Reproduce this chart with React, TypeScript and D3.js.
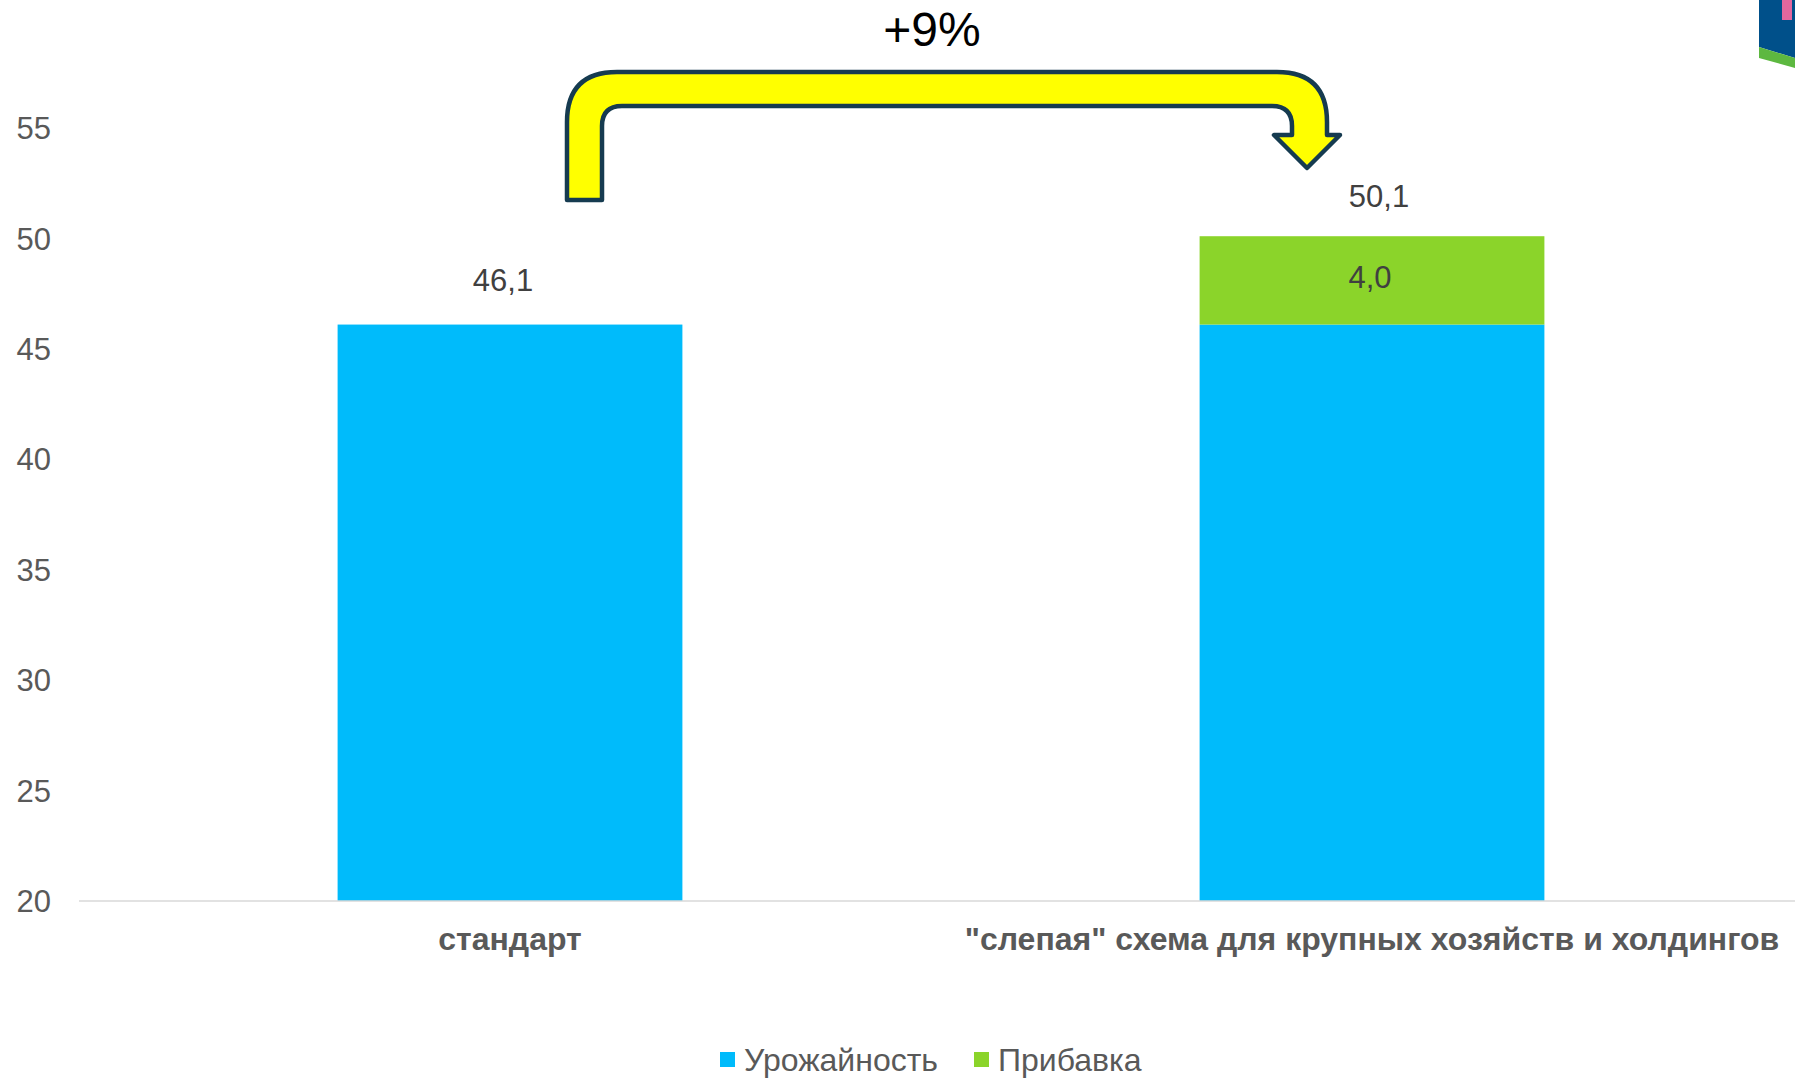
import React from "react";
import * as d3 from "d3";

const categories = ["стандарт", "\"слепая\" схема для крупных хозяйств и холдингов"];
const yieldValues = [46.1, 46.1];
const gainValues = [0, 4.0];
const totalLabels = ["46,1", "50,1"];
const gainLabels = ["", "4,0"];
const yTicks = [20, 25, 30, 35, 40, 45, 50, 55];
const seriesNames = ["Урожайность", "Прибавка"];
const growthLabel = "+9%";

const W = 1795;
const H = 1078;
const BLUE = "#00BBFB";
const GREEN = "#8BD42A";
const FONT = "'Liberation Sans', Arial, sans-serif";

export default function App() {
  const x = d3.scaleBand<string>().domain(categories).range([79, 1803]).paddingInner(0.6).paddingOuter(0.3);
  const y = d3.scaleLinear().domain([20, 55]).range([901, 128]);
  const bw = x.bandwidth();
  const totalDx = [-7, 7];

  // arrow geometry
  const xL0 = 567, xL1 = 602, yBot = 200, yT0 = 72, yT1 = 106;
  const xR1 = 1292, xR0 = 1327, yHead = 135, hL = 1274, hR = 1340, tipX = 1307, tipY = 168;
  const Ro = 50, Ri = 20;
  const arrowPath = [
    `M${xL0},${yBot}`,
    `L${xL0},${yT0 + Ro}`,
    `Q${xL0},${yT0} ${xL0 + Ro},${yT0}`,
    `L${xR0 - Ro},${yT0}`,
    `Q${xR0},${yT0} ${xR0},${yT0 + Ro}`,
    `L${xR0},${yHead}`,
    `L${hR},${yHead}`,
    `L${tipX},${tipY}`,
    `L${hL},${yHead}`,
    `L${xR1},${yHead}`,
    `L${xR1},${yT1 + Ri}`,
    `Q${xR1},${yT1} ${xR1 - Ri},${yT1}`,
    `L${xL1 + Ri},${yT1}`,
    `Q${xL1},${yT1} ${xL1},${yT1 + Ri}`,
    `L${xL1},${yBot}`,
    "Z",
  ].join(" ");

  return (
    <svg width={W} height={H} style={{ position: "absolute", left: 0, top: 0, background: "#fff" }} fontFamily={FONT}>
      {/* logo fragment */}
      <polygon points="1759,0 1795,0 1795,58 1759,47" fill="#00508A" />
      <polygon points="1759,47 1795,58 1795,68 1759,58" fill="#5DB840" />
      <rect x={1782} y={0} width={10} height={20} fill="#E2679E" />

      {/* y tick labels */}
      {yTicks.map((t) => (
        <text key={t} x={51} y={y(t)} dy="0.36em" textAnchor="end" fontSize={31} fill="#595959">
          {t}
        </text>
      ))}

      {/* bars */}
      {categories.map((c, i) => (
        <g key={c}>
          <rect x={x(c)} y={y(yieldValues[i])} width={bw} height={y(20) - y(yieldValues[i])} fill={BLUE} />
          {gainValues[i] > 0 && (
            <rect
              x={x(c)}
              y={y(yieldValues[i] + gainValues[i])}
              width={bw}
              height={y(yieldValues[i]) - y(yieldValues[i] + gainValues[i])}
              fill={GREEN}
            />
          )}
          {gainValues[i] > 0 && (
            <text
              x={(x(c) as number) + bw / 2 - 2}
              y={(y(yieldValues[i]) + y(yieldValues[i] + gainValues[i])) / 2 - 4}
              dy="0.36em"
              textAnchor="middle"
              fontSize={31}
              fill="#404040"
            >
              {gainLabels[i]}
            </text>
          )}
          <text
            x={(x(c) as number) + bw / 2 + totalDx[i]}
            y={y(yieldValues[i] + gainValues[i]) - (i === 0 ? 45 : 40)}
            dy="0.36em"
            textAnchor="middle"
            fontSize={31}
            fill="#404040"
          >
            {totalLabels[i]}
          </text>
          <text
            x={(x(c) as number) + bw / 2}
            y={938}
            dy="0.36em"
            textAnchor="middle"
            fontSize={32}
            fontWeight="bold"
            fill="#595959"
          >
            {c}
          </text>
        </g>
      ))}

      {/* axis line */}
      <line x1={79} x2={W} y1={y(20)} y2={y(20)} stroke="#D9D9D9" strokeWidth={1.5} />

      {/* arrow */}
      <path d={arrowPath} fill="#FFFF00" stroke="#163B50" strokeWidth={4.5} strokeLinejoin="round" />
      <text x={932} y={29} dy="0.36em" textAnchor="middle" fontSize={48} fill="#000">
        {growthLabel}
      </text>

      {/* legend */}
      <rect x={720} y={1052} width={15} height={15} fill={BLUE} />
      <text x={744} y={1059} dy="0.36em" fontSize={32} fill="#595959">
        {seriesNames[0]}
      </text>
      <rect x={974} y={1052} width={15} height={15} fill={GREEN} />
      <text x={998} y={1059} dy="0.36em" fontSize={32} fill="#595959">
        {seriesNames[1]}
      </text>
    </svg>
  );
}
